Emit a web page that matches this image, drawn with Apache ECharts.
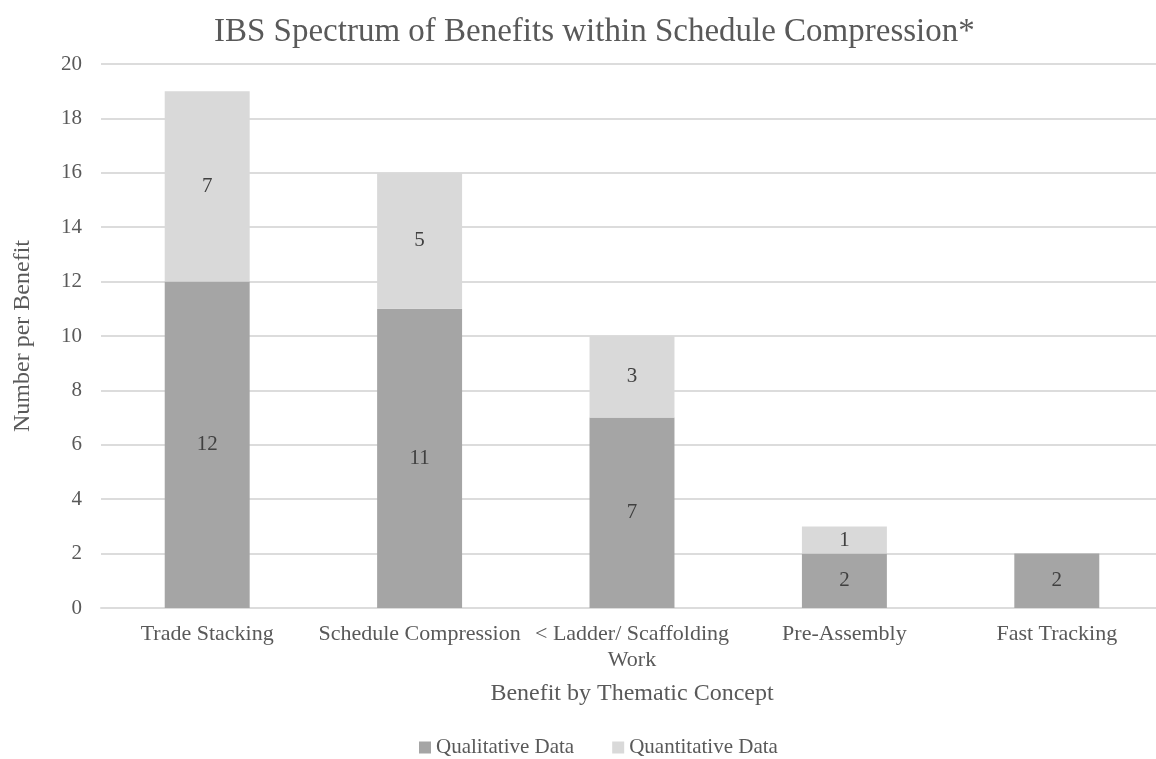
<!DOCTYPE html>
<html>
<head>
<meta charset="utf-8">
<title>IBS Spectrum of Benefits within Schedule Compression</title>
<script src="https://cdn.jsdelivr.net/npm/echarts@6/dist/echarts.min.js"></script>
<style>
  html, body { margin: 0; padding: 0; background: #ffffff; }
  #chart { width: 1156px; height: 759px; }
</style>
</head>
<body>
<div id="chart"></div>
<script>
// Benefit categories along the x axis
const categories = ['Trade Stacking', 'Schedule Compression', '< Ladder/ Scaffolding\nWork', 'Pre-Assembly', 'Fast Tracking'];
// Counts per benefit, stacked
const qualitative = [12, 11, 7, 2, 2];
const quantitative = [7, 5, 3, 1, 0];
// Y axis ticks
const yTicks = [0, 2, 4, 6, 8, 10, 12, 14, 16, 18, 20];

const serif = '"Liberation Serif", "DejaVu Serif", serif';
const textGrey = '#595959';

const chart = echarts.init(document.getElementById('chart'), null, { renderer: 'canvas' });

const segmentLabel = {
  show: true,
  position: 'inside',
  fontFamily: serif,
  fontSize: 21,
  color: '#404040',
  formatter: p => (p.value ? String(p.value) : '')
};

chart.setOption({
  backgroundColor: '#ffffff',
  animation: false,
  title: {
    text: 'IBS Spectrum of Benefits within Schedule Compression*',
    left: 209,
    top: 11,
    textStyle: { fontFamily: serif, fontSize: 33, fontWeight: 'normal', color: textGrey }
  },
  legend: {
    top: 732,
    left: 414,
    itemWidth: 12,
    itemHeight: 12,
    itemGap: 38,
    icon: 'rect',
    textStyle: { fontFamily: serif, fontSize: 21, color: textGrey },
    data: ['Qualitative Data', 'Quantitative Data']
  },
  grid: { left: 101, right: -7, top: 64, bottom: 151, containLabel: false, outerBoundsMode: 'none' },
  xAxis: {
    type: 'category',
    data: categories,
    name: 'Benefit by Thematic Concept',
    nameLocation: 'middle',
    nameGap: 74,
    nameTextStyle: { fontFamily: serif, fontSize: 24, color: textGrey },
    axisLine: { show: true, lineStyle: { color: '#dcdcdc', width: 2 } },
    axisTick: { show: false },
    axisLabel: {
      interval: 0,
      margin: 13,
      fontFamily: serif,
      fontSize: 22,
      lineHeight: 26,
      color: textGrey
    }
  },
  yAxis: {
    type: 'value',
    min: yTicks[0],
    max: yTicks[yTicks.length - 1],
    interval: yTicks[1] - yTicks[0],
    name: 'Number per Benefit',
    nameLocation: 'middle',
    nameGap: 66,
    nameRotate: 90,
    nameTextStyle: { fontFamily: serif, fontSize: 24, color: textGrey },
    axisLine: { show: false },
    axisTick: { show: false },
    axisLabel: { margin: 19, fontFamily: serif, fontSize: 21, color: textGrey },
    splitLine: { lineStyle: { color: '#dcdcdc', width: 2 } }
  },
  series: [
    {
      name: 'Qualitative Data',
      type: 'bar',
      stack: 'benefits',
      barWidth: '40%',
      data: qualitative,
      itemStyle: { color: '#a5a5a5' },
      label: segmentLabel
    },
    {
      name: 'Quantitative Data',
      type: 'bar',
      stack: 'benefits',
      barWidth: '40%',
      data: quantitative,
      itemStyle: { color: '#d9d9d9' },
      label: segmentLabel
    }
  ]
});
</script>
</body>
</html>
